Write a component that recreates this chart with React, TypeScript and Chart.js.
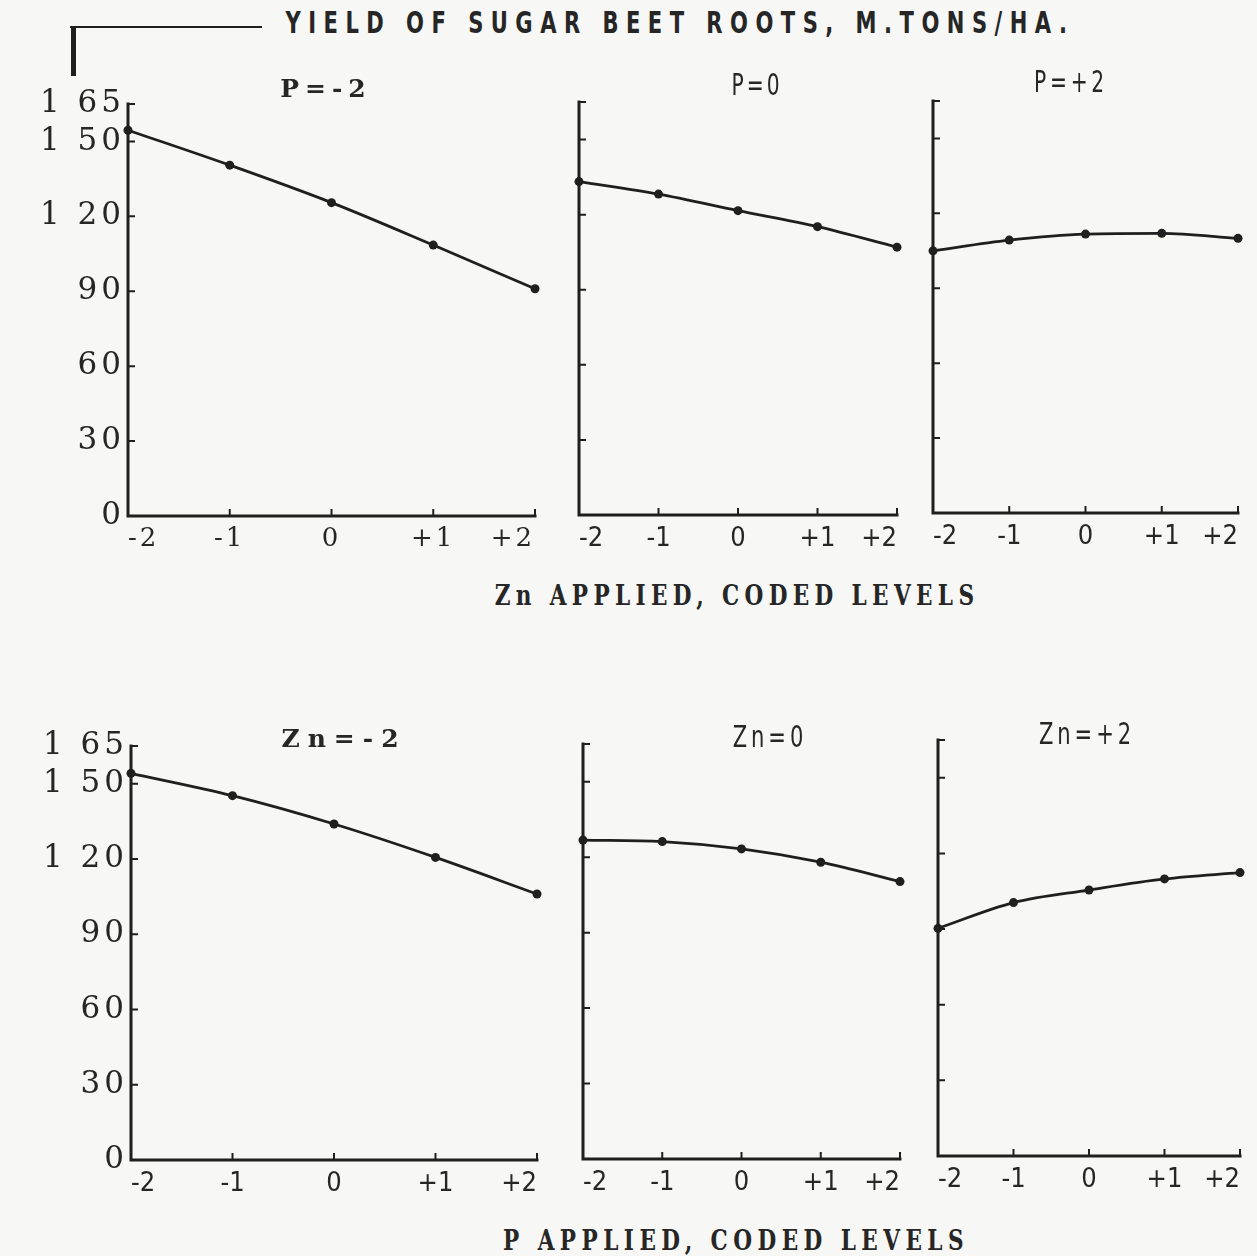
import React, { useEffect, useRef } from "react";
import { Chart, registerables } from "chart.js";

Chart.register(...registerables);

// ---------- data ----------
const codedLevels = [-2, -1, 0, 1, 2];
const xTickLabels = ["-2", "-1", "0", "+1", "+2"];
const yTickValues = [0, 30, 60, 90, 120, 150, 165];
const yTickLabels = ["0", "30", "60", "90", "1 20", "1 50", "1 65"];

// Yield vs Zn coded level, at three P levels
const yieldAtPMinus2 = [154.5, 140.5, 125.5, 108.5, 91];
const yieldAtP0 = [133.2, 128.2, 121.6, 115.2, 107];
const yieldAtPPlus2 = [105, 109.3, 111.7, 112, 110];

// Yield vs P coded level, at three Zn levels
const yieldAtZnMinus2 = [154.1, 145.2, 133.9, 120.6, 106];
const yieldAtZn0 = [126.8, 126.2, 123.3, 118, 110.3];
const yieldAtZnPlus2 = [90.3, 100.5, 105.5, 109.9, 112.4];

const panelTitles = ["P=-2", "P=0", "P=+2", "Zn=-2", "Zn=0", "Zn=+2"];
const mainTitle = "YIELD OF SUGAR BEET ROOTS, M.TONS/HA.";
const topAxisTitle = "Zn APPLIED, CODED LEVELS";
const bottomAxisTitle = "P APPLIED, CODED LEVELS";

// ---------- layout / style ----------
const INK = "#1f1f1f";
const TEXT = "#262626";
const BG = "#f7f7f5";
const SERIF = "'DejaVu Serif', 'Liberation Serif', serif";
const COND = "'DejaVu Sans Condensed', 'Liberation Sans Narrow', 'DejaVu Sans', sans-serif";

type Area = { l: number; t: number; r: number; b: number };
type Panel = {
  values: number[];
  area: Area;
  showY: boolean;
  xFontFamily: string;
  xFontSize: number;
  xSpacing: string;
  title: string;
  titlePos: [number, number];
  titleFont: string;
  titleSize: number;
  titleSpacing: number;
  titleScale: number;
  titleWeight: string;
};

const PANELS: Panel[] = [
  { values: yieldAtPMinus2, area: { l: 128, t: 104, r: 535, b: 516 }, showY: true, xFontFamily: SERIF, xFontSize: 26, xSpacing: "3px", title: panelTitles[0], titlePos: [326, 88], titleFont: SERIF, titleSize: 25, titleSpacing: 6, titleScale: 1, titleWeight: "bold" },
  { values: yieldAtP0, area: { l: 579, t: 102, r: 897, b: 515 }, showY: false, xFontFamily: COND, xFontSize: 27, xSpacing: "0px", title: panelTitles[1], titlePos: [757, 85], titleFont: COND, titleSize: 30, titleSpacing: 4, titleScale: 0.75, titleWeight: "normal" },
  { values: yieldAtPPlus2, area: { l: 933, t: 101, r: 1238, b: 513 }, showY: false, xFontFamily: COND, xFontSize: 27, xSpacing: "0px", title: panelTitles[2], titlePos: [1071, 82], titleFont: COND, titleSize: 30, titleSpacing: 5, titleScale: 0.75, titleWeight: "normal" },
  { values: yieldAtZnMinus2, area: { l: 131, t: 746, r: 537, b: 1160 }, showY: true, xFontFamily: COND, xFontSize: 27, xSpacing: "0px", title: panelTitles[3], titlePos: [344, 738], titleFont: SERIF, titleSize: 25, titleSpacing: 8, titleScale: 1, titleWeight: "bold" },
  { values: yieldAtZn0, area: { l: 583, t: 744, r: 900, b: 1159 }, showY: false, xFontFamily: COND, xFontSize: 27, xSpacing: "0px", title: panelTitles[4], titlePos: [770, 737], titleFont: COND, titleSize: 30, titleSpacing: 5, titleScale: 0.78, titleWeight: "normal" },
  { values: yieldAtZnPlus2, area: { l: 938, t: 740, r: 1240, b: 1156 }, showY: false, xFontFamily: COND, xFontSize: 27, xSpacing: "0px", title: panelTitles[5], titlePos: [1087, 734], titleFont: COND, titleSize: 30, titleSpacing: 5, titleScale: 0.78, titleWeight: "normal" },
];

const PAD_TOP = 24;
const PAD_RIGHT = 12;
const X_AXIS_H = 48;

const axisPlugin = {
  id: "inwardAxes",
  beforeDraw(chart: any) {
    const opts = chart.options.plugins.inwardAxes || {};
    for (const id of ["x", "y"]) {
      const s = chart.scales[id];
      if (!s || s._spacingPatched) continue;
      const orig = s.drawLabels;
      const sp = id === "x" ? opts.xSpacing : opts.ySpacing;
      s.drawLabels = function (area: any) {
        const c = this.ctx;
        c.save();
        c.letterSpacing = sp || "0px";
        orig.call(this, area);
        c.restore();
      };
      s._spacingPatched = true;
    }
  },
  beforeDatasetsDraw(chart: any) {
    const { ctx, chartArea, scales } = chart;
    const { left, right, top, bottom } = chartArea;
    ctx.save();
    ctx.strokeStyle = INK;
    ctx.lineCap = "square";
    ctx.lineWidth = 3;
    ctx.beginPath();
    ctx.moveTo(left, top);
    ctx.lineTo(left, bottom);
    ctx.lineTo(right, bottom);
    ctx.stroke();
    ctx.lineWidth = 2;
    ctx.beginPath();
    for (const v of yTickValues) {
      if (v === 0) continue;
      const py = scales.y.getPixelForValue(v);
      ctx.moveTo(left, py);
      ctx.lineTo(left + 6, py);
    }
    for (const v of codedLevels) {
      if (v === -2) continue;
      const px = scales.x.getPixelForValue(v);
      ctx.moveTo(px, bottom);
      ctx.lineTo(px, bottom - 6);
    }
    ctx.stroke();
    ctx.restore();
  },
};

function PanelChart({ panel }: { panel: Panel }) {
  const ref = useRef<HTMLCanvasElement | null>(null);
  const yw = panel.showY ? panel.area.l : 20;
  const left = panel.area.l - yw;
  const top = panel.area.t - PAD_TOP;
  const width = panel.area.r - panel.area.l + yw + PAD_RIGHT;
  const height = panel.area.b - panel.area.t + PAD_TOP + X_AXIS_H;

  useEffect(() => {
    if (!ref.current) return;
    const chart = new Chart(ref.current, {
      type: "line",
      data: {
        datasets: [
          {
            data: codedLevels.map((x, i) => ({ x, y: panel.values[i] })),
            borderColor: INK,
            backgroundColor: INK,
            borderWidth: 2.8,
            pointRadius: 4.5,
            pointBorderWidth: 0,
            pointBackgroundColor: INK,
            cubicInterpolationMode: "monotone",
            clip: false as any,
          },
        ],
      },
      options: {
        responsive: false,
        animation: false,
        devicePixelRatio: 1,
        layout: { padding: { top: PAD_TOP, right: PAD_RIGHT, left: 0, bottom: 0 } },
        plugins: {
          legend: { display: false },
          tooltip: { enabled: false },
          title: { display: false },
          inwardAxes: { xSpacing: panel.xSpacing, ySpacing: "4px" },
        } as any,
        scales: {
          x: {
            type: "linear",
            min: -2,
            max: 2,
            afterBuildTicks: (s: any) => {
              s.ticks = codedLevels.map((v) => ({ value: v }));
            },
            afterFit: (s: any) => {
              s.height = X_AXIS_H;
            },
            grid: { display: false },
            border: { display: false },
            ticks: {
              autoSkip: false,
              maxRotation: 0,
              align: "inner",
              padding: 0,
              color: TEXT,
              font: { family: panel.xFontFamily, size: panel.xFontSize },
              callback: (v: any) => xTickLabels[codedLevels.indexOf(Number(v))],
            },
          },
          y: {
            type: "linear",
            min: 0,
            max: 165,
            afterBuildTicks: (s: any) => {
              s.ticks = yTickValues.map((v) => ({ value: v }));
            },
            afterFit: (s: any) => {
              s.width = yw;
            },
            grid: { display: false, drawTicks: false },
            border: { display: false },
            ticks: {
              display: panel.showY,
              autoSkip: false,
              padding: 3,
              color: TEXT,
              font: { family: SERIF, size: 31 },
              callback: (v: any) => yTickLabels[yTickValues.indexOf(Number(v))],
            },
          },
        },
      } as any,
      plugins: [axisPlugin as any],
    });
    return () => chart.destroy();
  }, []);

  return (
    <canvas
      ref={ref}
      width={width}
      height={height}
      style={{ position: "absolute", left, top, width, height }}
    />
  );
}

function Label({ text, x, y, font, size, spacing, weight, scale }: { text: string; x: number; y: number; font: string; size: number; spacing: number; weight?: string; scale?: number }) {
  return (
    <div
      style={{
        position: "absolute",
        left: x,
        top: y,
        transform: `translate(-50%, -50%) scaleX(${scale ?? 1})`,
        whiteSpace: "nowrap",
        fontFamily: font,
        fontSize: size,
        letterSpacing: spacing,
        fontWeight: (weight as any) ?? "bold",
        color: TEXT,
        lineHeight: 1,
      }}
    >
      {text}
    </div>
  );
}

export default function App() {
  return (
    <div
      style={{
        position: "absolute",
        left: 0,
        top: 0,
        width: 1257,
        height: 1256,
        background: BG,
        overflow: "hidden",
      }}
    >
      {/* y-axis quantity marker */}
      <div style={{ position: "absolute", left: 70, top: 26, width: 192, height: 2, background: INK }} />
      <div style={{ position: "absolute", left: 71, top: 26, width: 5, height: 50, background: INK }} />
      <Label text={mainTitle} x={680} y={23} font={COND} size={30} spacing={9.6} scale={0.78} />

      {PANELS.map((p, i) => (
        <PanelChart key={i} panel={p} />
      ))}
      {PANELS.map((p, i) => (
        <Label
          key={"t" + i}
          text={p.title}
          x={p.titlePos[0]}
          y={p.titlePos[1]}
          font={p.titleFont}
          size={p.titleSize}
          spacing={p.titleSpacing}
          weight={p.titleWeight}
          scale={p.titleScale}
        />
      ))}

      <Label text={topAxisTitle} x={737} y={595} font={SERIF} size={27} spacing={6.7} scale={0.8} />
      <Label text={bottomAxisTitle} x={736} y={1240} font={SERIF} size={27} spacing={6.8} scale={0.8} />
    </div>
  );
}
